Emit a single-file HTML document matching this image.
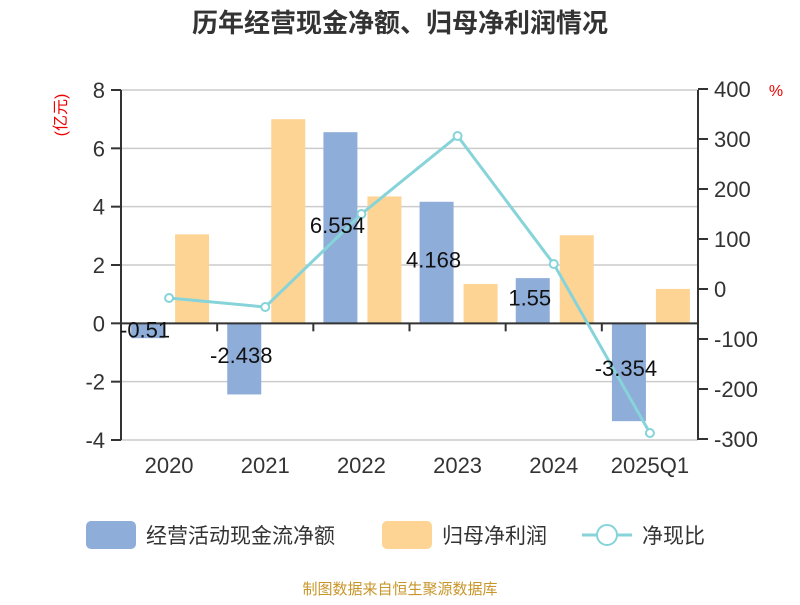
<!DOCTYPE html>
<html><head><meta charset="utf-8"><style>
body{margin:0;background:#fff;}
svg text{font-family:"Liberation Sans","Noto Sans CJK SC",sans-serif;}
</style></head><body>
<svg id="c" width="800" height="600" xmlns="http://www.w3.org/2000/svg">
<text x="400" y="32" text-anchor="middle" font-size="26" font-weight="bold" fill="#333">历年经营现金净额、归母净利润情况</text>
<text transform="translate(66,115) rotate(-90)" text-anchor="middle" font-size="16" fill="#e00">(亿元)</text>
<text x="776" y="96" text-anchor="middle" font-size="16" fill="#e00">%</text>
<g id="grid"></g><g id="bars"></g><g id="axes"></g><g id="line"></g><g id="labels"></g>
<g>
<rect x="86" y="521" width="50" height="28" rx="5" fill="#8eadd9"/>
<text x="146" y="543" font-size="21" fill="#333">经营活动现金流净额</text>
<rect x="382" y="521" width="50" height="28" rx="5" fill="#fdd494"/>
<text x="442" y="543" font-size="21" fill="#333">归母净利润</text>
<line x1="582" y1="535" x2="632" y2="535" stroke="#86d4d9" stroke-width="3"/>
<circle cx="607" cy="535" r="10" fill="#fff" stroke="#86d4d9" stroke-width="2"/>
<text x="642" y="543" font-size="21" fill="#333">净现比</text>
</g>
<text x="400" y="594" text-anchor="middle" font-size="15" fill="#c8962a">制图数据来自恒生聚源数据库</text>
</svg>
<script>
const categories=["2020","2021","2022","2023","2024","2025Q1"];
const cashValues=[-0.51,-2.438,6.554,4.168,1.55,-3.354];
const cashLabels=["-0.51","-2.438","6.554","4.168","1.55","-3.354"];
const profitValues=[3.05,7.0,4.35,1.35,3.02,1.18];
const ratioValues=[-16,-34,152,308,52,-286];
const leftTicks=[-4,-2,0,2,4,6,8];
const rightTicks=[-300,-200,-100,0,100,200,300,400];
const NS="http://www.w3.org/2000/svg";
const X0=121,X1=698,Y0=90,Y1=440;
const yL=v=>Y1-(v+4)/12*(Y1-Y0);
const yR=v=>Y1-(v+300)/700*(Y1-Y0);
const band=(X1-X0)/categories.length;
const cx=i=>X0+band*(i+0.5);
function mk(p,tag,a){const e=document.createElementNS(NS,tag);for(const k in a)e.setAttribute(k,a[k]);document.getElementById(p).appendChild(e);return e;}
leftTicks.forEach(t=>{
 const y=yL(t);
 const g=mk('grid','line',{x1:X0,x2:X1,y1:y,y2:y,stroke:'#ccc','stroke-width':1.5});
 
 const tk=mk('axes','line',{x1:X0-10,x2:X0,y1:y,y2:y,stroke:'#333','stroke-width':2});
 
 const tx=mk('axes','text',{x:X0-16,y:y+8,'text-anchor':'end','font-size':22,fill:'#333'});tx.textContent=t;
 
});
rightTicks.forEach(t=>{
 const y=yR(t)-1;
 const tk=mk('axes','line',{x1:X1,x2:X1+10,y1:y,y2:y,stroke:'#333','stroke-width':2});
 
 const tx=mk('axes','text',{x:X1+16,y:y+8,'font-size':22,fill:'#333'});tx.textContent=t;
 
});
let a=mk('axes','line',{x1:X0,x2:X0,y1:Y0,y2:Y1,stroke:'#333','stroke-width':2});
a=mk('axes','line',{x1:X1,x2:X1,y1:Y0,y2:Y1,stroke:'#333','stroke-width':2});
a=mk('axes','line',{x1:X0,x2:X1,y1:yL(0),y2:yL(0),stroke:'#333','stroke-width':2});
categories.forEach((c,i)=>{
 const xb=X0+band*i;
 if(i>0){const t=mk('axes','line',{x1:xb,x2:xb,y1:yL(0),y2:yL(0)+8,stroke:'#333','stroke-width':2});}
 const tx=mk('axes','text',{x:cx(i),y:473,'text-anchor':'middle','font-size':22,fill:'#333'});tx.textContent=c;
 
 const v=cashValues[i],y0=yL(0),y=yL(v);
 const b=mk('bars','rect',{x:cx(i)-38,y:Math.min(y,y0),width:34,height:Math.abs(y-y0),fill:'#8eadd9'});
 
 const p=profitValues[i],yp=yL(p);
 const b2=mk('bars','rect',{x:cx(i)+6,y:Math.min(yp,y0),width:34,height:Math.abs(yp-y0),fill:'#fdd494'});
 
 const l=mk('labels','text',{x:cx(i)-24,'text-anchor':'middle','font-size':22,fill:'#111'});
 l.setAttribute('y', v>=0 ? (y+y0)/2+5 : (v<-1? (y0+y)/2+4 : y0+14));
 l.textContent=cashLabels[i];
 
});
const pts=ratioValues.map((v,i)=>cx(i)+','+yR(v)).join(' ');
const pl=mk('line','polyline',{points:pts,fill:'none',stroke:'#86d4d9','stroke-width':3});

ratioValues.forEach((v,i)=>{
 const c=mk('line','circle',{cx:cx(i),cy:yR(v),r:4,fill:'#fff',stroke:'#86d4d9','stroke-width':2});
 
});
</script>
</body></html>
